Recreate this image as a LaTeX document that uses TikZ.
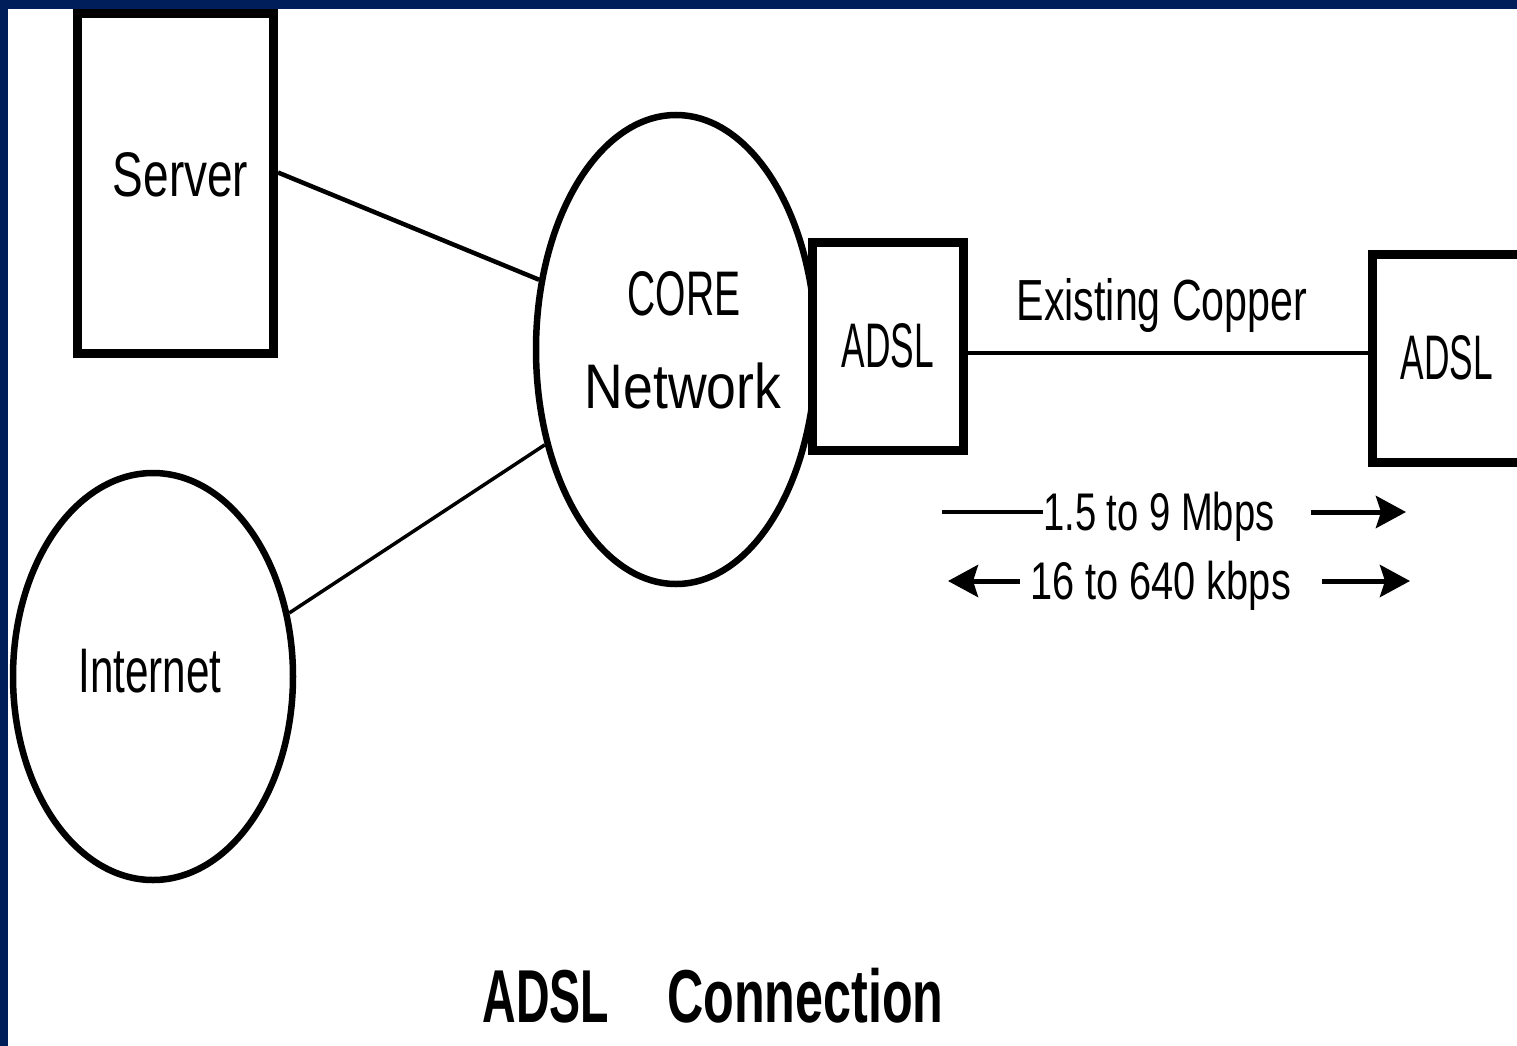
\documentclass[tikz,border=0pt]{standalone}
\usepackage{fontspec}
\setmainfont{Liberation Sans}
\usetikzlibrary{arrows.meta,shapes.geometric}
\definecolor{navy}{RGB}{0,30,90}
\newcommand{\nrw}[2]{\scalebox{#1}[1]{#2}}
\begin{document}
\begin{tikzpicture}[x=1pt,y=-1pt,
  box/.style={draw=black,line width=9pt,fill=white,rectangle,inner sep=0pt},
  oval/.style={draw=black,line width=6.5pt,ellipse,inner sep=0pt},
  lbl/.style={inner sep=0pt,anchor=base,font=\fontsize{63}{63}\selectfont},
  small/.style={inner sep=0pt,font=\fontsize{53}{53}\selectfont},
  wire/.style={line width=4.5pt},
  tip/.style={line width=5pt,-{Stealth[length=30pt,width=32pt,inset=5pt]}}]
\useasboundingbox (0,0) rectangle (1517,1046);
\fill[navy] (0,0) rectangle (1517,1046);
\fill[white] (8,9) rectangle (1517,1046);
\begin{scope}
\clip (8,9) rectangle (1517,1046);
% shapes
\node[box,minimum width=196pt,minimum height=340pt] (server) at (175.5,183.5) {};
\node[oval,minimum width=280pt,minimum height=469pt] (core) at (676,349.5) {};
\node[oval,minimum width=280pt,minimum height=407pt] (internet) at (153,676.5) {};
\node[box,minimum width=151pt,minimum height=208pt] (adslL) at (888,346.5) {};
\node[box,minimum width=228pt,minimum height=208pt] (adslR) at (1486,358.5) {};
% labels
\node[lbl] (tserver) at (180.5,196) {\nrw{0.73}{Server}};
\node[lbl] (tinternet) at (150,692) {\nrw{0.67}{Internet}};
\node[lbl] (tcore) at (684,315) {\nrw{0.62}{CORE}};
\node[lbl] (tnet) at (683,408) {\nrw{0.85}{Network}};
\node[lbl] (tadslL) at (888,367) {\nrw{0.56}{ADSL}};
\node[lbl] (tadslR) at (1447,379) {\nrw{0.56}{ADSL}};
\node[lbl,font=\fontsize{58}{58}\selectfont] (tcopper) at (1162,320) {\nrw{0.71}{Existing Copper}};
% connectors
\draw[wire] ([yshift=11pt]server.east) -- (core.153);
\draw[line width=3.5pt] (internet.25) -- (core.216);
\draw[line width=4pt] ([yshift=-6pt]adslL.east) -- ([yshift=-6pt]adslL.east -| adslR.west);
% rates
\node[small,anchor=base west] (r1) at (1043,530) {\nrw{0.72}{1.5 to 9 Mbps}};
\node[small,anchor=base west] (r2) at (1030,599) {\nrw{0.75}{16 to 640 kbps}};
\coordinate (r1a) at (942,512);
\coordinate (r1b) at (1311,512);
\coordinate (r1c) at (1406,512);
\coordinate (r2a) at (948,581);
\coordinate (r2b) at (1322,581);
\coordinate (r2c) at (1410,581);
\draw[wire] (r1a) -- (r1a -| r1.west);
\draw[tip] (r1b) -- (r1c);
\draw[tip] (r2a -| r2.west) ++(-10,0) -- (r2a);
\draw[tip] (r2b) -- (r2c);
% title
\node[inner sep=0pt,anchor=base,font=\bfseries\fontsize{75}{75}\selectfont] (title) at (713,1022) {\nrw{0.62}{ADSL}\hspace{58pt}\nrw{0.67}{Connection}};
\end{scope}
\end{tikzpicture}
\end{document}
